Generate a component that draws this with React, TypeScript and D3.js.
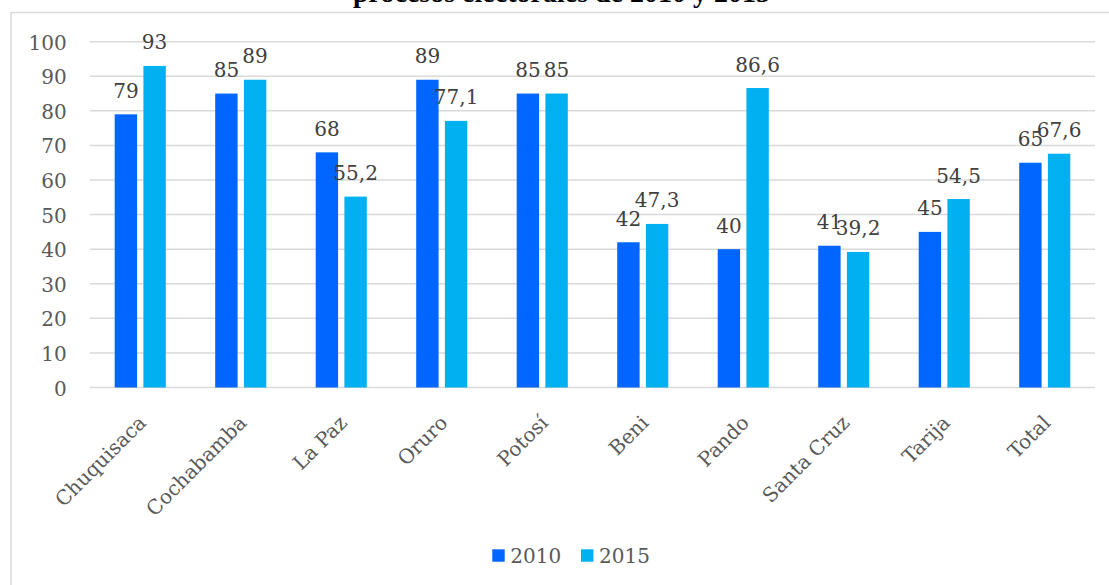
import React from "react";
import * as d3 from "d3";

const categories = ["Chuquisaca", "Cochabamba", "La Paz", "Oruro", "Potosí", "Beni", "Pando", "Santa Cruz", "Tarija", "Total"];
const series2010 = [79, 85, 68, 89, 85, 42, 40, 41, 45, 65];
const series2015 = [93, 89, 55.2, 77.1, 85, 47.3, 86.6, 39.2, 54.5, 67.6];
const seriesNames = ["2010", "2015"];
const yTicks = [0, 10, 20, 30, 40, 50, 60, 70, 80, 90, 100];
const title = "procesos electorales de 2010 y 2015";

const W = 1109;
const H = 585;
const colors = ["#0066FF", "#00B0F0"];
const FONT = "'DejaVu Serif', serif";

export default function App() {
  const x = d3.scaleBand<string>().domain(categories).range([90, 1095]).paddingInner(0).paddingOuter(0);
  const y = d3.scaleLinear().domain([0, 100]).range([387.5, 41.7]);
  const bw = x.bandwidth();
  const barW = 22.4;
  const gap = 6.3;
  const fmt = (v: number) => String(v).replace(".", ",");
  const all = [series2010, series2015];

  return (
    <svg
      width={W}
      height={H}
      style={{ position: "absolute", left: 0, top: 0, background: "#fff" }}
      fontFamily={FONT}
    >
      <rect x={0} y={0} width={W} height={H} fill="#fff" />
      <text
        x={561.5}
        y={1.5}
        textAnchor="middle"
        fontFamily="'Liberation Serif', serif"
        fontWeight="bold"
        fontSize={28}
        fill="#000"
      >
        {title}
      </text>
      <rect x={11} y={12.5} width={W + 20} height={H + 20} fill="none" stroke="#d9d9d9" strokeWidth={1.5} />

      {yTicks.map((t) => (
        <g key={t}>
          <line x1={90} x2={1095} y1={y(t)} y2={y(t)} stroke="#d9d9d9" strokeWidth={1.5} />
          <text x={66.7} y={y(t) + 8} textAnchor="end" fontSize={20} fill="#595959">
            {t}
          </text>
        </g>
      ))}

      {categories.map((c, i) => {
        const cx = (x(c) as number) + bw / 2;
        return (
          <g key={c}>
            {all.map((s, k) => {
              const bx = k === 0 ? cx - gap / 2 - barW : cx + gap / 2;
              const v = s[i];
              return (
                <g key={k}>
                  <rect x={bx} y={y(v)} width={barW} height={y(0) - y(v)} fill={colors[k]} />
                  <text x={bx + barW / 2} y={y(v) - 16.5} textAnchor="middle" fontSize={20} fill="#404040">
                    {fmt(v)}
                  </text>
                </g>
              );
            })}
            <text
              transform={`translate(${cx + 7},${424}) rotate(-45)`}
              textAnchor="end"
              fontSize={20}
              fill="#595959"
            >
              {c}
            </text>
          </g>
        );
      })}

      {seriesNames.map((n, k) => {
        const lx = k === 0 ? 492.3 : 581;
        return (
          <g key={n}>
            <rect x={lx} y={549.3} width={12.4} height={12.4} fill={colors[k]} />
            <text x={lx + 18} y={563} fontSize={20} fill="#595959">
              {n}
            </text>
          </g>
        );
      })}
    </svg>
  );
}
